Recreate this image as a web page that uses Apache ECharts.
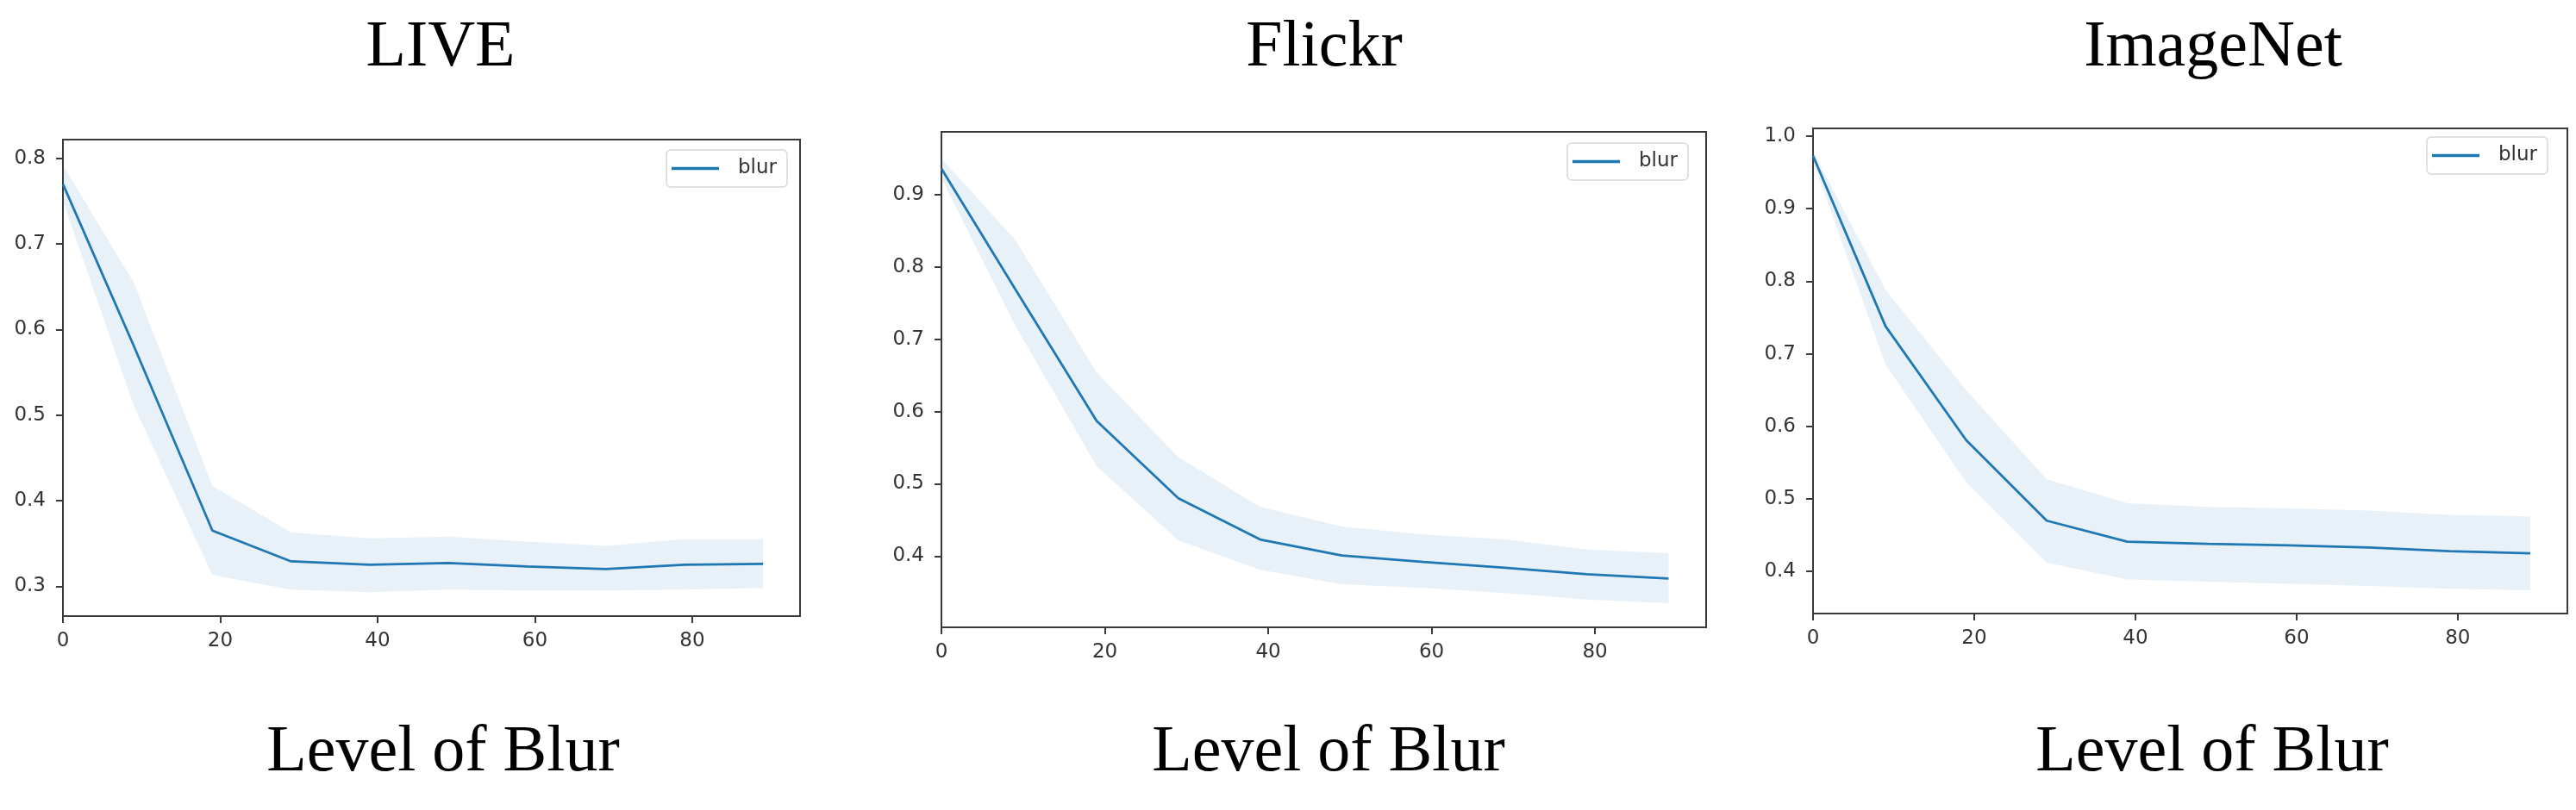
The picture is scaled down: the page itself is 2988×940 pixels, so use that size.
<!DOCTYPE html>
<html>
<head>
<meta charset="utf-8">
<script src="https://cdn.jsdelivr.net/npm/echarts@6/dist/echarts.min.js"></script>
<style>
html,body{margin:0;padding:0;background:#fff;}
#chart{width:2988px;height:940px;}
</style>
</head>
<body>
<div id="chart"></div>
<script>
// ---- data ----
const blurLevels = [0, 9, 19, 29, 39, 49, 59, 69, 79, 89];
const xTicks = [0, 20, 40, 60, 80];

const panelTitles = ['LIVE', 'Flickr', 'ImageNet'];
const xAxisTitle = 'Level of Blur';
const seriesName = 'blur';

const liveMean  = [0.770, 0.581, 0.365, 0.329, 0.325, 0.327, 0.323, 0.320, 0.325, 0.326];
const liveUpper = [0.792, 0.655, 0.417, 0.363, 0.356, 0.358, 0.352, 0.347, 0.355, 0.355];
const liveLower = [0.750, 0.511, 0.313, 0.296, 0.293, 0.296, 0.295, 0.295, 0.296, 0.298];
const liveYTicks = [0.3, 0.4, 0.5, 0.6, 0.7, 0.8];

const flickrMean  = [0.936, 0.770, 0.587, 0.480, 0.423, 0.401, 0.392, 0.384, 0.375, 0.369];
const flickrUpper = [0.950, 0.838, 0.654, 0.537, 0.468, 0.441, 0.430, 0.423, 0.409, 0.404];
const flickrLower = [0.923, 0.720, 0.524, 0.422, 0.381, 0.361, 0.356, 0.349, 0.340, 0.335];
const flickrYTicks = [0.4, 0.5, 0.6, 0.7, 0.8, 0.9];

const imagenetMean  = [0.973, 0.738, 0.581, 0.470, 0.441, 0.438, 0.436, 0.433, 0.428, 0.425];
const imagenetUpper = [0.979, 0.788, 0.650, 0.527, 0.494, 0.489, 0.487, 0.484, 0.478, 0.476];
const imagenetLower = [0.966, 0.685, 0.523, 0.412, 0.389, 0.386, 0.383, 0.380, 0.376, 0.374];
const imagenetYTicks = [0.4, 0.5, 0.6, 0.7, 0.8, 0.9, 1.0];

// ---- layout ----
const panels = [
  {mean: liveMean, upper: liveUpper, lower: liveLower, yTicks: liveYTicks,
   grid: {left: 73, top: 162, width: 855, height: 553}, yMin: 0.265, yMax: 0.822, xMax: 93.7,
   legend: {left: 773, top: 174}, titleX: 511, xTitleX: 514},
  {mean: flickrMean, upper: flickrUpper, lower: flickrLower, yTicks: flickrYTicks,
   grid: {left: 1092, top: 153, width: 887, height: 575}, yMin: 0.3015, yMax: 0.987, xMax: 93.6,
   legend: {left: 1818, top: 166}, titleX: 1536, xTitleX: 1541},
  {mean: imagenetMean, upper: imagenetUpper, lower: imagenetLower, yTicks: imagenetYTicks,
   grid: {left: 2103, top: 149, width: 875, height: 563}, yMin: 0.342, yMax: 1.0107, xMax: 93.6,
   legend: {left: 2815, top: 159}, titleX: 2567, xTitleX: 2566}
];

const lineColor = '#1f77b4';
const bandColor = 'rgba(31,119,180,0.1)';
const frameColor = '#3a3a3a';
const tickFont = {fontFamily: 'DejaVu Sans', fontSize: 23, color: '#333'};

const grids = [], xAxes = [], yAxes = [], series = [], legends = [], graphics = [];

panels.forEach((p, i) => {
  grids.push(Object.assign({show: true, borderColor: frameColor, borderWidth: 2, backgroundColor: '#fff'}, p.grid));
  xAxes.push({
    type: 'value', gridIndex: i, min: 0, max: p.xMax,
    splitLine: {show: false}, axisLine: {show: false},
    axisTick: {show: true, length: 8, lineStyle: {color: frameColor, width: 2}, customValues: xTicks},
    axisLabel: Object.assign({margin: 18, customValues: xTicks, formatter: v => String(v)}, tickFont)
  });
  yAxes.push({
    type: 'value', gridIndex: i, min: p.yMin, max: p.yMax,
    splitLine: {show: false}, axisLine: {show: false},
    axisTick: {show: true, length: 8, lineStyle: {color: frameColor, width: 2}, customValues: p.yTicks},
    axisLabel: Object.assign({margin: 20, customValues: p.yTicks, formatter: v => v.toFixed(1)}, tickFont)
  });
  const bandData = blurLevels.map((x, k) => [x, p.lower[k], p.upper[k]]);
  const meanData = blurLevels.map((x, k) => [x, p.mean[k]]);
  series.push({
    name: 'band' + i, type: 'custom', xAxisIndex: i, yAxisIndex: i,
    data: bandData, encode: {x: 0, y: [1, 2]}, silent: true, z: 1, clip: true,
    renderItem: function (params, api) {
      if (params.dataIndexInside !== 0) return null;
      const top = bandData.map(d => api.coord([d[0], d[2]]));
      const bot = bandData.slice().reverse().map(d => api.coord([d[0], d[1]]));
      return {type: 'polygon', shape: {points: top.concat(bot)}, style: {fill: bandColor, stroke: null}};
    }
  });
  series.push({
    name: seriesName, type: 'line', xAxisIndex: i, yAxisIndex: i,
    data: meanData, symbol: 'none', lineStyle: {color: lineColor, width: 2.8},
    itemStyle: {color: lineColor}, z: 3
  });
  legends.push({
    data: [seriesName], left: p.legend.left, top: p.legend.top,
    orient: 'vertical', icon: 'rect', itemWidth: 55, itemHeight: 3.5,
    padding: [10, 12, 10, 6], borderColor: '#d8d8d8', borderWidth: 1.5, borderRadius: 5,
    backgroundColor: '#fff', selectedMode: false,
    textStyle: {fontFamily: 'DejaVu Sans', fontSize: 23, color: '#333', padding: [0, 0, 0, 17]}
  });
  graphics.push({
    type: 'text', x: p.titleX, y: 56,
    style: {text: panelTitles[i], fontFamily: 'Liberation Serif', fontSize: 76, fill: '#000', align: 'center', verticalAlign: 'middle'}
  });
  graphics.push({
    type: 'text', x: p.xTitleX, y: 874,
    style: {text: xAxisTitle, fontFamily: 'Liberation Serif', fontSize: 76, fill: '#000', align: 'center', verticalAlign: 'middle'}
  });
});

const chart = echarts.init(document.getElementById('chart'), null, {renderer: 'canvas'});
chart.setOption({
  animation: false,
  backgroundColor: '#fff',
  grid: grids, xAxis: xAxes, yAxis: yAxes, series: series, legend: legends,
  graphic: graphics
});
</script>
</body>
</html>
